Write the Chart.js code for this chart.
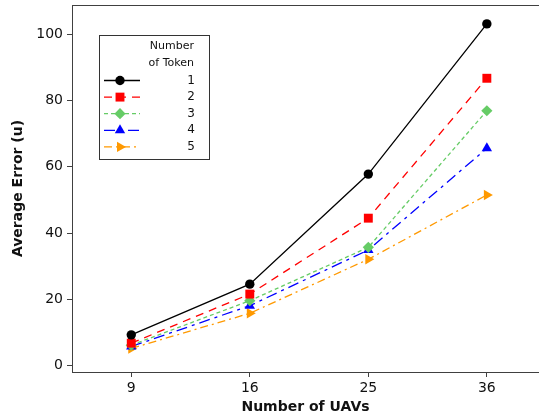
<!DOCTYPE html>
<html>
<head>
<meta charset="utf-8">
<script src="https://cdn.jsdelivr.net/npm/chart.js@4/dist/chart.umd.min.js"></script>
<style>
  html, body { margin: 0; padding: 0; background: #fff; }
  #wrap { width: 539px; height: 419px; }
</style>
</head>
<body>
<div id="wrap"><canvas id="chart" width="539" height="419"></canvas></div>
<script>
// values
const uavs = ['9', '16', '25', '36'];
const token1 = [9.3, 24.6, 57.8, 103.1];
const token2 = [6.8, 21.6, 44.5, 86.7];
const token3 = [6.2, 19.6, 35.7, 76.9];
const token4 = [5.8, 18.1, 34.9, 65.6];
const token5 = [5.2, 15.8, 32.1, 51.5];
const yTicks = [0, 20, 40, 60, 80, 100];
const legendTitle = ['Number', 'of Token'];

function pts(arr) {
  return arr.map((v, i) => ({ x: i, y: v }));
}

function series(label, data, color, dash, style, radius, rot) {
  return {
    label: label,
    data: pts(data),
    borderColor: color,
    backgroundColor: color,
    borderWidth: 1.3,
    borderDash: dash,
    pointStyle: style,
    pointRadius: radius,
    pointRotation: rot || 0,
    pointBorderWidth: 0,
    tension: 0
  };
}

const datasets = [
  series('1', token1, '#000000', [], 'circle', 4.7),
  series('2', token2, '#ff0000', [8, 6], 'rect', 6.3),
  series('3', token3, '#66cc66', [4, 3], 'rectRot', 5.6),
  series('4', token4, '#0000ff', [11, 5, 3, 5], 'triangle', 6),
  series('5', token5, '#ff9900', [8, 4, 2, 4], 'triangle', 6, 90)
];

const font = 'DejaVu Sans';

// box legend in the upper left and the top frame line
const extras = {
  id: 'extras',
  afterDraw(chart) {
    const ctx = chart.ctx;
    const a = chart.chartArea;
    ctx.save();
    ctx.strokeStyle = '#404040';
    ctx.lineWidth = 1;
    ctx.beginPath();
    ctx.moveTo(a.left, a.top + 0.5);
    ctx.lineTo(a.right, a.top + 0.5);
    ctx.stroke();

    const bx = 99.5, by = 35.5, bw = 110, bh = 124;
    ctx.strokeStyle = '#333';
    ctx.strokeRect(bx, by, bw, bh);
    ctx.fillStyle = '#111';
    ctx.font = '11px "' + font + '"';
    ctx.textAlign = 'right';
    ctx.textBaseline = 'middle';
    ctx.fillText(legendTitle[0], 194, 46);
    ctx.fillText(legendTitle[1], 194, 63);
    ctx.font = '12px "' + font + '"';
    chart.data.datasets.forEach((ds, i) => {
      const y = 80.5 + i * 16.6;
      ctx.strokeStyle = ds.borderColor;
      ctx.lineWidth = ds.borderWidth;
      ctx.setLineDash(ds.borderDash);
      ctx.beginPath();
      ctx.moveTo(104, y);
      ctx.lineTo(140, y);
      ctx.stroke();
      ctx.setLineDash([]);
      ctx.fillStyle = ds.backgroundColor;
      Chart.helpers.drawPoint(ctx, {
        pointStyle: ds.pointStyle,
        radius: ds.pointRadius,
        rotation: ds.pointRotation,
        borderWidth: 0
      }, 120, y);
      ctx.fillStyle = '#111';
      ctx.fillText(ds.label, 195, y);
    });
    ctx.restore();
  }
};

new Chart(document.getElementById('chart'), {
  type: 'line',
  data: { datasets: datasets },
  plugins: [extras],
  options: {
    responsive: false,
    animation: false,
    layout: { autoPadding: false, padding: { top: 5, right: 0, left: 0, bottom: 0 } },
    plugins: { legend: { display: false }, tooltip: { enabled: false } },
    scales: {
      x: {
        type: 'linear',
        min: -0.5,
        max: 3.44,
        afterFit: s => { s.height = 47; s.paddingLeft = 0; s.paddingRight = 0; },
        afterBuildTicks: s => { s.ticks = uavs.map((u, i) => ({ value: i })); },
        ticks: {
          callback: (v) => uavs[v],
          color: '#111',
          padding: 3,
          font: { family: font, size: 14 }
        },
        grid: { drawOnChartArea: false, tickLength: 5, color: '#404040' },
        border: { color: '#404040', width: 1 },
        title: {
          display: true,
          text: 'Number of UAVs',
          color: '#111',
          padding: { top: 0, bottom: 3 },
          font: { family: font, size: 14, weight: 'bold' }
        }
      },
      y: {
        min: -1.9,
        max: 108.8,
        afterFit: s => { s.width = 72; s.paddingTop = 0; s.paddingBottom = 0; },
        afterBuildTicks: s => { s.ticks = yTicks.map(v => ({ value: v })); },
        ticks: {
          color: '#111',
          padding: 4,
          font: { family: font, size: 14 }
        },
        grid: { drawOnChartArea: false, tickLength: 5, color: '#404040' },
        border: { color: '#404040', width: 1 },
        title: {
          display: true,
          text: 'Average Error (u)',
          color: '#111',
          padding: { top: 10, bottom: 0 },
          font: { family: font, size: 14, weight: 'bold' }
        }
      }
    }
  }
});
</script>
</body>
</html>
